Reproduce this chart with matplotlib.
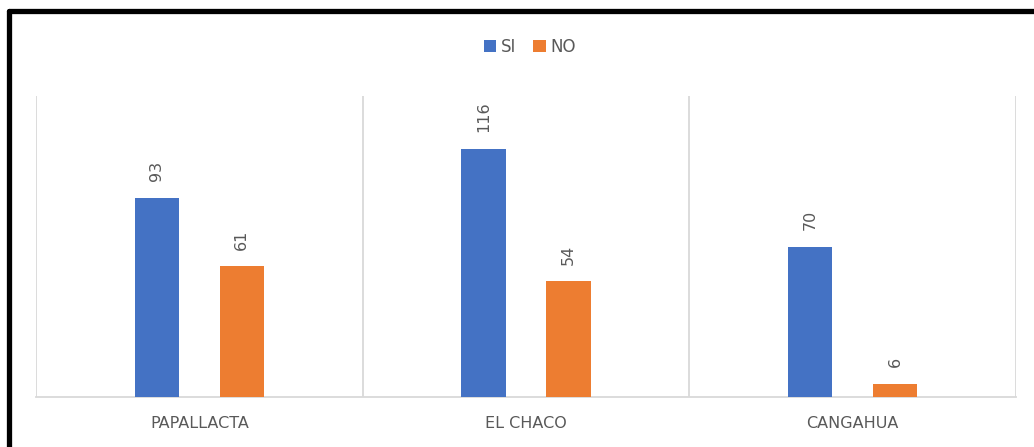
import matplotlib
matplotlib.use("Agg")
import matplotlib.pyplot as plt
import numpy as np
from matplotlib.lines import Line2D

categories = ["PAPALLACTA", "EL CHACO", "CANGAHUA"]
si_values = [93, 116, 70]
no_values = [61, 54, 6]
series_names = ["SI", "NO"]
colors = ["#4472C4", "#ED7D31"]

W, H = 1034, 447
fig = plt.figure(figsize=(W / 100, H / 100), dpi=100)
fig.patch.set_facecolor("white")

ax = fig.add_axes([36 / W, 1 - 397 / H, (1016 - 36) / W, (397 - 96) / H])
x = np.arange(len(categories))
bw = 0.135
off = 0.13
b1 = ax.bar(x - off, si_values, bw, color=colors[0], label=series_names[0], zorder=3)
b2 = ax.bar(x + off, no_values, bw, color=colors[1], label=series_names[1], zorder=3)

ax.set_xlim(-0.5, len(categories) - 0.5)
ax.set_ylim(0, 140.6)
for s in ["top", "right", "left"]:
    ax.spines[s].set_visible(False)
ax.spines["bottom"].set_color("#d9d9d9")
ax.spines["bottom"].set_linewidth(1.3)
for b in np.arange(-0.5, len(categories), 1.0):
    ax.axvline(b, color="#d9d9d9", lw=1.3, zorder=1)
ax.set_yticks([])
ax.set_xticks(x)
ax.set_xticklabels(categories, fontsize=11.5, color="#595959", fontfamily="DejaVu Sans")
ax.tick_params(axis="x", length=0, pad=14)

for bars, vals in [(b1, si_values), (b2, no_values)]:
    for rect, v in zip(bars, vals):
        ax.annotate(str(v), (rect.get_x() + rect.get_width() / 2, v),
                    xytext=(0, 12), textcoords="offset points",
                    ha="center", va="bottom", rotation=90,
                    fontsize=11.5, color="#595959")

fig.legend(loc="center", bbox_to_anchor=(530 / W, 1 - 47 / H), ncol=2,
           frameon=False, fontsize=12, handlelength=0.75, handleheight=0.75,
           handletextpad=0.3, columnspacing=1.0, labelcolor="#595959")

# black frame on left and top
fig.add_artist(Line2D([8.5 / W, 8.5 / W], [0, 1 - 11 / H], transform=fig.transFigure,
                      color="black", lw=3.8, solid_capstyle="round"))
fig.add_artist(Line2D([8.5 / W, 1], [1 - 11 / H, 1 - 11 / H], transform=fig.transFigure,
                      color="black", lw=3.8, solid_capstyle="round"))

fig.savefig("out.png", dpi=100, facecolor="white")
